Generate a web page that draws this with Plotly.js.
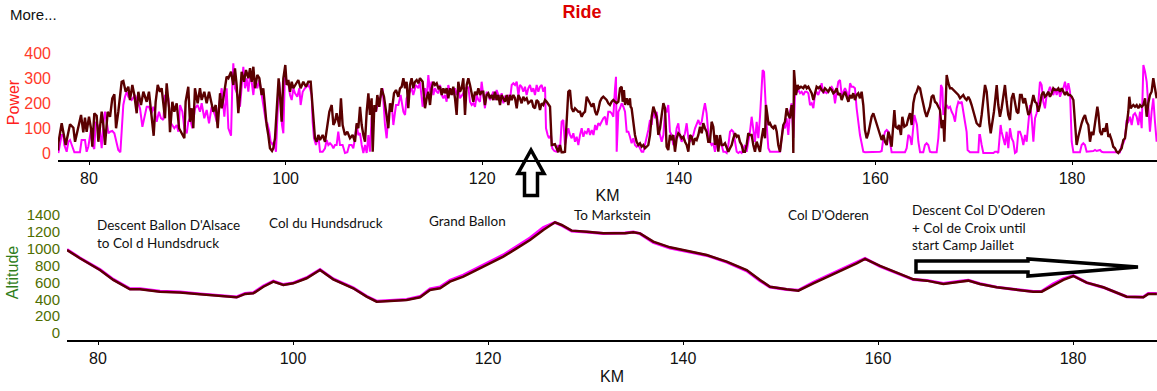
<!DOCTYPE html>
<html>
<head>
<meta charset="utf-8">
<script src="https://cdn.plot.ly/plotly-3.0.1.min.js"></script>
<style>html,body{margin:0;padding:0;background:#fff;}#chart{width:1157px;height:391px;}</style>
</head>
<body>
<div id="chart"></div>
<script>
// ---- Data ----
const kmTicks = [80, 100, 120, 140, 160, 180];
const powerTicks = [0, 100, 200, 300, 400];
const altitudeTicks = [0, 200, 400, 600, 800, 1000, 1200, 1400];

const magentaKm = [76.88,77.05,77.22,77.39,77.49,77.73,77.9,78.07,78.24,78.51,79.08,79.25,79.59,79.76,79.93,80.2,80.34,80.54,80.68,80.88,81.12,81.29,81.46,81.63,81.8,81.97,82.14,82.37,82.58,82.75,82.98,83.19,83.32,83.49,83.66,83.83,84.0,84.34,84.68,84.95,85.19,85.43,85.63,85.87,86.1,86.37,86.54,86.71,86.88,87.12,87.32,87.56,87.73,88.07,88.24,88.48,88.68,88.92,89.09,89.26,89.5,89.7,89.94,90.1,90.27,90.51,90.78,91.05,91.29,91.46,91.73,91.97,92.21,92.48,92.82,92.99,93.22,93.5,93.77,94.0,94.18,94.45,94.58,94.68,94.85,95.12,
95.36,95.53,95.7,95.87,96.04,96.21,96.38,96.55,96.72,96.89,97.12,97.33,97.56,97.8,98.0,98.14,98.34,98.48,98.68,98.82,99.02,99.16,99.36,99.5,99.63,99.77,99.94,100.11,100.28,100.45,100.62,100.79,100.96,101.19,101.4,101.53,101.74,101.97,102.31,102.48,102.65,102.75,102.89,103.09,103.33,103.5,103.77,104.01,104.18,104.35,104.52,104.69,104.86,105.02,105.19,105.36,105.53,105.8,106.04,106.28,106.48,106.72,106.89,107.06,107.23,107.4,107.57,107.74,107.91,108.08,108.25,108.42,108.58,108.75,108.92,109.19,109.43,109.67,109.87,110.11,110.28,110.45,110.62,110.79,110.96,111.23,111.47,111.7,111.98,112.15,112.31,112.59,112.82,112.99,113.26,113.5,113.67,113.94,
114.18,114.35,114.52,114.69,114.86,115.03,115.2,115.37,115.54,115.71,115.88,116.05,116.21,116.38,116.55,116.72,116.89,117.06,117.23,117.4,117.57,117.74,117.91,118.08,118.25,118.42,118.59,118.76,118.93,119.1,119.27,119.44,119.61,119.78,119.94,120.11,120.28,120.45,120.62,120.79,120.96,121.13,121.3,121.47,121.64,121.81,121.98,122.15,122.32,122.49,122.66,122.83,123.0,123.17,123.34,123.51,123.68,123.84,124.01,124.18,124.35,124.52,124.69,124.86,125.03,125.2,125.37,125.54,125.71,125.88,126.05,126.22,126.39,126.49,126.66,126.79,127.0,127.13,127.34,127.57,127.74,127.91,128.08,128.25,128.42,128.59,128.76,128.93,129.1,129.27,129.44,129.61,129.78,129.95,130.12,130.29,130.46,130.63,130.8,130.97,131.14,131.32,131.49,131.64,131.81,131.98,132.15,132.32,132.49,132.66,132.83,
133.0,133.17,133.34,133.51,133.61,133.68,133.85,134.02,134.19,134.36,134.53,134.7,134.87,135.03,135.2,135.37,135.54,135.71,135.88,136.05,136.22,136.39,136.56,136.73,136.9,137.07,137.24,137.41,137.58,137.75,137.92,138.09,138.26,138.43,138.6,138.76,138.93,139.1,139.27,139.44,139.61,139.78,139.95,140.12,140.29,140.46,140.63,140.8,140.97,141.14,141.31,141.48,141.65,141.82,141.99,142.16,142.33,142.49,142.66,142.83,143.0,143.17,143.34,143.51,143.68,143.85,144.02,144.19,144.36,144.53,144.7,144.87,145.04,145.21,145.38,145.55,145.72,145.89,146.06,146.22,146.39,146.56,146.73,146.9,147.07,147.24,147.41,147.58,147.75,147.92,148.09,148.26,148.43,148.53,148.67,148.77,148.94,149.11,149.28,149.62,149.96,150.29,150.46,150.63,150.8,150.97,151.14,151.31,151.48,151.65,
151.82,151.99,152.16,152.33,152.5,152.67,152.84,153.01,153.18,153.35,153.52,153.69,153.85,154.02,154.19,154.36,154.53,154.7,154.87,155.04,155.21,155.38,155.55,155.72,155.89,156.06,156.23,156.4,156.57,156.74,156.91,157.08,157.25,157.42,157.58,157.75,157.92,158.09,158.26,158.43,158.6,158.77,158.94,160.3,160.47,160.64,160.81,160.98,161.15,161.32,161.48,161.65,163.01,163.18,163.35,163.52,163.69,163.86,163.96,164.1,164.23,164.37,164.54,164.87,165.04,165.21,165.38,165.55,165.72,166.23,166.4,166.57,166.67,166.81,166.91,167.08,167.25,167.42,167.59,167.76,167.93,168.1,168.27,168.44,168.61,168.78,168.94,169.11,169.28,169.38,169.62,170.47,170.57,
170.64,170.81,170.98,171.32,171.66,172.0,172.17,172.34,172.5,172.61,172.74,172.84,173.01,173.18,173.35,173.52,173.69,173.86,174.03,174.2,174.37,174.54,174.71,174.88,175.05,175.22,175.39,175.56,175.73,175.9,176.07,176.24,176.4,176.57,176.74,176.91,177.08,177.25,177.42,177.59,177.76,177.93,178.1,178.27,178.44,178.61,178.78,178.95,179.12,179.29,179.46,179.63,179.8,179.97,180.14,180.81,180.98,181.15,181.32,181.49,182.17,182.34,182.51,182.85,183.02,183.19,184.88,185.05,185.22,185.39,185.56,185.73,185.9,186.07,186.24,186.41,186.58,186.75,186.92,187.09,187.26,187.43,187.6,187.76,187.93,188.1,188.27,188.44,188.61];
const magentaPower = [0,32,72,72,32,5,45,52,32,3,3,52,52,5,25,92,32,16,125,112,85,19,119,165,125,79,85,88,79,52,12,3,72,192,225,245,225,212,232,199,179,105,145,185,185,159,185,165,125,165,139,132,232,219,125,112,99,112,85,192,165,99,79,125,139,99,179,192,165,199,139,172,119,185,152,125,185,259,145,259,99,69,272,359,259,232,
185,272,345,259,299,245,312,285,232,299,259,292,232,185,125,119,85,45,32,45,5,139,285,219,112,79,325,285,279,232,212,259,239,225,259,192,245,259,272,259,232,125,59,32,72,5,5,19,52,32,39,32,19,32,32,85,32,32,0,3,32,32,19,59,112,72,79,32,0,32,0,72,5,139,179,165,205,225,259,112,59,152,179,199,112,192,192,232,165,152,219,245,259,232,272,259,285,185,
259,219,312,245,285,232,259,245,239,272,232,219,232,205,272,245,252,232,259,232,259,219,232,239,259,259,265,205,192,199,185,232,212,205,285,239,179,245,232,212,232,245,212,252,232,219,239,199,225,219,232,212,272,279,272,285,232,272,265,245,265,232,259,272,245,259,232,272,245,265,272,245,265,99,72,59,72,19,8,5,32,5,125,132,32,72,99,72,59,79,45,65,32,72,99,65,85,79,99,72,92,72,112,92,119,112,125,139,145,112,165,
165,159,145,259,305,5,165,179,199,185,165,85,85,65,39,59,32,25,32,19,5,5,32,59,92,132,112,179,139,165,99,72,45,72,165,165,192,85,72,32,45,99,119,65,45,59,79,119,59,45,59,72,99,119,132,112,125,165,199,159,79,45,32,39,5,39,32,59,32,5,5,0,32,85,92,85,45,5,0,5,0,19,32,5,45,85,145,99,45,125,59,145,259,332,325,232,112,19,5,5,5,5,59,112,99,139,72,165,199,60,
232,245,252,239,245,232,245,245,239,192,199,179,232,245,232,252,279,239,245,239,245,259,265,252,199,245,285,292,232,245,259,245,205,279,265,265,259,179,112,72,39,5,3,3,5,8,59,85,92,85,39,3,3,19,72,65,32,112,152,132,112,45,3,3,32,39,32,5,3,3,59,165,272,259,152,179,192,179,185,165,152,125,179,205,199,205,172,125,85,12,3,3,72,
72,32,0,0,0,0,5,5,0,72,112,85,59,32,85,19,99,59,45,0,5,85,85,65,32,72,45,125,192,139,45,139,159,199,285,272,205,179,232,245,265,245,232,259,232,259,225,245,259,285,245,279,245,45,3,3,32,39,32,5,8,12,8,12,5,3,3,32,39,59,132,125,145,112,152,159,145,112,165,99,352,325,285,192,85,165,219,125,45];

const darkKm = [76.85,76.88,77.22,77.39,77.63,78.07,78.41,78.58,78.91,79.19,79.42,79.59,79.76,80.0,80.2,80.34,80.54,80.78,80.95,81.29,81.46,81.63,81.9,82.14,82.37,82.58,82.75,82.98,83.32,83.49,83.73,84.0,84.17,84.41,84.61,84.85,85.02,85.29,85.53,85.87,86.1,86.37,86.58,86.78,86.99,87.22,87.39,87.73,87.9,88.14,88.24,88.48,88.68,88.92,89.16,89.7,89.83,90.1,90.27,90.45,90.61,90.78,91.05,91.29,91.46,91.73,91.97,92.21,92.48,92.65,92.89,93.09,93.33,93.5,93.67,94.0,94.18,94.45,94.68,94.85,95.02,95.19,
95.36,95.53,95.77,95.97,96.21,96.38,96.55,96.72,96.89,97.12,97.33,97.56,97.73,97.9,98.07,98.24,98.41,98.62,98.75,98.92,99.09,99.29,99.43,99.6,99.77,99.97,100.11,100.28,100.45,100.62,100.79,101.06,101.29,101.53,101.8,102.07,102.31,102.55,102.65,102.82,102.99,103.16,103.33,103.5,103.77,104.01,104.24,104.45,104.69,104.86,105.02,105.19,105.47,105.63,105.8,106.04,106.28,106.55,106.82,107.06,107.23,107.4,107.57,107.74,107.91,108.08,108.25,108.42,108.58,108.75,108.86,109.03,109.19,109.33,109.53,109.77,110.01,110.21,110.45,110.62,110.79,111.03,111.23,111.47,111.64,111.81,111.98,112.15,112.31,112.48,112.65,112.82,112.99,113.16,113.33,113.5,113.67,113.94,
114.18,114.35,114.52,114.69,114.86,115.03,115.2,115.37,115.54,115.71,115.88,116.05,116.21,116.38,116.55,116.72,116.89,117.06,117.23,117.4,117.57,117.74,117.91,118.08,118.25,118.42,118.59,118.76,118.93,119.1,119.27,119.44,119.61,119.78,119.94,120.11,120.28,120.45,120.62,120.79,120.96,121.13,121.3,121.47,121.64,121.81,121.98,122.15,122.32,122.49,122.66,122.83,123.0,123.17,123.34,123.51,123.68,123.84,124.01,124.18,124.35,124.52,124.69,124.86,125.03,125.2,125.37,125.54,125.71,125.88,126.05,126.22,126.39,126.56,126.73,126.9,127.07,127.24,127.4,127.57,127.74,127.91,128.08,128.25,128.42,128.59,128.76,128.93,129.1,129.27,129.44,129.61,129.78,129.95,130.12,130.29,130.46,130.63,130.8,130.97,131.14,131.32,131.49,131.64,131.81,131.98,132.15,132.32,132.49,132.66,132.83,
133.0,133.17,133.34,133.51,133.68,133.85,134.02,134.19,134.29,134.42,134.53,134.7,134.87,135.03,135.1,135.2,135.37,135.54,135.71,135.88,136.05,136.22,136.39,136.56,136.73,136.9,137.07,137.24,137.41,137.58,137.75,137.92,138.09,138.26,138.43,138.6,138.76,138.93,139.1,139.27,139.44,139.61,139.78,139.95,140.12,140.29,140.46,140.63,140.8,140.97,141.14,141.31,141.48,141.65,141.82,141.99,142.16,142.33,142.49,142.66,142.83,143.0,143.17,143.34,143.51,143.68,143.85,144.02,144.19,144.36,144.53,144.7,144.87,145.04,145.21,145.38,145.55,145.72,145.89,146.06,146.22,146.39,146.56,146.73,146.9,147.07,147.24,147.41,147.58,147.75,147.92,148.09,148.26,148.43,148.6,148.77,148.87,149.01,149.14,149.28,149.45,149.62,149.79,149.96,150.12,150.29,150.46,150.63,150.8,150.97,151.14,151.31,151.48,151.6,151.65,151.72,
151.92,152.09,152.23,152.43,152.67,152.84,153.01,153.18,153.35,153.52,153.69,153.85,154.02,154.19,154.36,154.53,154.7,154.87,155.04,155.21,155.38,155.55,155.72,155.89,156.06,156.23,156.4,156.57,156.74,156.91,157.08,157.25,157.42,157.58,157.75,157.92,158.09,158.26,158.43,158.6,158.77,158.94,159.11,159.28,159.45,159.62,159.79,159.96,160.13,160.3,160.47,160.64,160.81,160.98,161.15,161.32,161.48,161.65,161.93,162.06,162.26,162.4,162.6,162.74,162.94,163.18,163.35,163.52,163.69,163.86,164.03,164.2,164.37,164.54,164.71,164.87,165.04,165.21,165.38,165.55,165.72,165.89,166.06,166.23,166.4,166.57,166.74,166.91,167.01,167.15,167.25,167.42,167.59,167.76,167.93,168.1,168.27,168.44,168.61,168.78,168.94,169.11,169.28,169.45,169.62,169.79,169.96,170.13,170.3,170.47,
170.64,170.81,170.98,171.15,171.32,171.49,171.59,171.73,171.93,172.06,172.17,172.34,172.5,172.67,172.84,173.01,173.18,173.35,173.52,173.69,173.86,174.03,174.2,174.37,174.54,174.71,174.88,175.05,175.22,175.39,175.56,175.73,175.9,176.07,176.24,176.4,176.57,176.74,176.91,177.08,177.25,177.42,177.59,177.76,177.93,178.1,178.27,178.44,178.61,178.78,178.95,179.12,179.29,179.46,179.63,179.8,179.97,180.14,180.3,180.47,180.64,180.81,180.98,181.15,181.32,181.49,181.66,181.83,182.0,182.17,182.34,182.51,182.58,182.68,182.85,183.02,183.19,183.36,183.53,183.7,183.86,184.03,184.2,184.37,184.54,184.71,184.88,185.05,185.22,185.39,185.56,185.73,185.83,185.97,186.07,186.24,186.41,186.58,186.75,186.92,187.09,187.26,187.43,187.6,187.76,187.93,188.1,188.27,188.44,188.61];
const darkPower = [10,39,119,85,32,115,101,45,99,152,83,141,85,145,99,25,159,149,45,165,112,32,165,145,219,235,99,165,285,288,245,265,212,272,232,159,245,192,245,205,245,152,69,205,272,245,259,139,279,179,83,205,165,199,99,59,205,265,125,179,99,259,199,259,212,245,199,245,192,165,192,99,239,179,219,305,299,325,272,339,272,159,
232,325,285,332,299,339,285,345,259,312,299,232,259,179,112,72,19,8,19,59,165,299,232,125,299,352,272,292,245,285,259,279,292,259,285,265,285,285,232,112,59,45,72,52,72,45,112,165,192,112,125,159,105,219,112,72,85,59,72,45,119,99,185,112,72,45,165,239,152,219,5,192,165,232,185,259,225,165,99,199,165,239,252,225,259,265,299,259,285,179,272,299,259,285,292,279,299,285,
179,219,245,192,259,285,272,279,259,265,232,259,239,259,219,259,232,265,219,152,285,245,259,299,152,272,299,272,232,205,245,232,259,232,245,245,192,232,239,219,232,212,245,212,232,192,232,219,205,232,192,232,212,232,219,179,232,219,199,225,212,219,199,205,212,185,179,212,205,172,199,192,212,205,192,185,32,32,35,19,3,32,3,3,5,125,245,252,179,165,179,172,165,165,145,159,165,225,212,199,185,199,165,152,172,205,219,225,219,212,199,
192,205,212,205,199,205,259,265,205,252,192,219,192,219,185,179,125,72,45,32,39,25,32,19,25,32,72,145,185,165,145,72,99,152,199,179,25,12,72,52,72,5,59,79,72,59,65,45,32,5,72,65,32,59,52,72,105,79,119,99,85,45,45,125,105,32,72,5,72,32,32,39,25,5,19,32,59,79,65,72,45,32,5,5,32,79,72,72,32,5,45,19,5,59,99,59,192,152,112,119,105,99,112,85,32,5,72,112,125,179,152,139,192,145,0,332,
232,272,259,265,259,272,259,265,252,239,212,245,265,259,265,252,245,259,252,245,259,252,239,245,259,232,239,212,232,245,225,205,232,219,239,212,232,239,219,245,192,92,59,79,112,145,159,139,119,99,72,52,72,45,32,85,65,25,172,105,99,112,72,145,105,112,139,159,112,199,232,245,265,259,225,192,165,145,165,185,225,232,205,199,185,172,99,132,45,245,312,279,259,259,252,245,239,232,219,225,232,219,212,225,212,192,165,139,119,112,
105,152,219,272,245,159,119,79,125,165,205,272,192,145,179,239,272,205,152,132,219,239,199,165,159,232,232,199,219,179,152,165,205,232,205,199,165,192,232,245,225,232,245,225,239,259,252,252,259,245,259,245,232,245,232,232,225,212,112,32,65,99,119,139,152,125,112,45,85,72,112,152,185,159,85,72,99,85,119,65,72,52,25,19,5,0,12,19,52,59,112,165,225,179,185,192,185,192,179,192,185,192,219,145,199,232,245,299,259,219];

const altKm = [76.82,78.15,80.2,81.57,83.28,84.31,86.36,88.41,90.46,92.17,94.22,95.08,95.93,96.96,97.98,99.01,100.03,101.4,102.77,104.13,106.18,107.55,108.58,109.95,111.66,113.03,114.05,115.08,116.1,117.47,118.84,120.21,121.57,122.94,124.31,125.67,126.87,127.56,128.58,130.12,131.83,134.05,134.9,135.59,136.95,138.67,140.38,142.43,144.48,146.53,147.9,148.92,150.63,151.83,153.37,154.74,156.44,157.81,158.67,160.21,161.92,163.62,164.99,166.7,168.41,169.26,170.46,172.17,173.88,175.93,176.79,177.98,179.01,180.03,181.4,183.11,185.5,187.21,187.72,188.6];
const altitudeDark = [985,886,747,629,518,518,490,481,459,439,423,463,470,549,609,569,589,649,747,637,530,431,372,380,391,423,510,530,609,668,747,819,906,1004,1103,1222,1313,1281,1214,1202,1182,1182,1194,1182,1083,1016,977,925,846,747,629,549,518,502,589,660,747,826,878,795,716,637,621,581,609,621,581,542,518,490,490,569,629,676,597,542,431,423,463,463];
const altitudeMagenta = [990,890,752,636,525,524,496,486,464,444,428,468,476,556,615,574,594,655,752,642,535,436,378,386,398,432,522,545,625,686,765,838,926,1026,1126,1250,1312,1275,1210,1198,1180,1185,1198,1178,1075,1008,972,920,840,738,620,545,515,506,600,672,760,840,885,790,712,634,624,586,614,625,584,544,520,492,496,582,642,680,598,540,430,428,468,468];

const labels = [
  {text: "Descent Ballon D'Alsace<br>to Col d Hundsdruck", px: 95, py: 234},
  {text: "Col du Hundsdruck", px: 267, py: 223},
  {text: "Grand Ballon", px: 427, py: 221},
  {text: "To Markstein", px: 572, py: 215},
  {text: "Col D'Oderen", px: 786, py: 215},
  {text: "Descent Col D'Oderen<br>+ Col de Croix until<br>start Camp Jaillet", px: 910, py: 227}
];

// ---- Helpers for pixel -> paper (decorations only) ----
const W = 1157, H = 391;
const fx = p => p / W, fy = p => 1 - p / H;
function pathFrom(pts) {
  return 'M' + pts.map(p => fx(p[0]).toFixed(5) + ',' + fy(p[1]).toFixed(5)).join(' L') + ' Z';
}

const AXF = 'Arial, "Liberation Sans", sans-serif';
const darkColor = '#5a0000';
const magColor = '#ff00ff';

const traces = [
  {x: magentaKm, y: magentaPower, type: 'scatter', mode: 'lines', xaxis: 'x', yaxis: 'y',
   line: {color: magColor, width: 2}, hoverinfo: 'skip'},
  {x: darkKm, y: darkPower, type: 'scatter', mode: 'lines', xaxis: 'x', yaxis: 'y',
   line: {color: darkColor, width: 2.4}, hoverinfo: 'skip'},
  {x: altKm, y: altitudeMagenta, type: 'scatter', mode: 'lines', xaxis: 'x2', yaxis: 'y2',
   line: {color: magColor, width: 3}, hoverinfo: 'skip'},
  {x: altKm, y: altitudeDark, type: 'scatter', mode: 'lines', xaxis: 'x2', yaxis: 'y2',
   line: {color: darkColor, width: 2.5}, hoverinfo: 'skip'}
];

const xCommon = {
  tickvals: kmTicks, ticktext: kmTicks.map(String),
  showline: true, linecolor: '#000', linewidth: 1.5,
  ticks: 'outside', ticklen: 3, tickcolor: '#000', tickwidth: 1,
  showgrid: false, zeroline: false,
  tickfont: {family: AXF, size: 16, color: '#111'},
  fixedrange: true
};

const layout = {
  width: W, height: H,
  margin: {l: 0, r: 0, t: 0, b: 0},
  paper_bgcolor: '#fff', plot_bgcolor: '#fff',
  showlegend: false,
  hovermode: false,
  title: {text: '<b>Ride</b>', font: {family: AXF, size: 18, color: '#dd0000'},
          x: 582 / W, xanchor: 'center', y: 1 - 12 / H, yanchor: 'middle'},
  xaxis: Object.assign({}, xCommon, {
    domain: [58 / W, 1], anchor: 'y', range: [76.846, 188.647],
    title: {text: 'KM', font: {family: AXF, size: 16, color: '#111'}, standoff: 4}
  }),
  xaxis2: Object.assign({}, xCommon, {
    domain: [67 / W, 1], anchor: 'y2', range: [76.82, 188.615],
    title: {text: 'KM', font: {family: AXF, size: 16, color: '#111'}, standoff: 5}
  }),
  yaxis: {
    domain: [1 - 160 / H, 1 - 45 / H], anchor: 'x', range: [-28, 432],
    tickvals: powerTicks, showgrid: false, zeroline: false, showline: false,
    ticks: '', ticklabelstandoff: 6,
    tickfont: {family: AXF, size: 16, color: '#ff3a2a'},
    title: {text: 'Power', font: {family: AXF, size: 16, color: '#ff2020'}, standoff: 0},
    fixedrange: true
  },
  yaxis2: {
    domain: [1 - 340 / H, 1 - 205 / H], anchor: 'x2', range: [-83, 1518],
    tickvals: altitudeTicks, showgrid: false, zeroline: false, showline: false,
    ticks: '', ticklabelstandoff: 6,
    tickfont: {family: AXF, size: 15, color: '#4f6e00'},
    title: {text: 'Altitude', font: {family: AXF, size: 16, color: '#2f7d1a'}, standoff: 4},
    fixedrange: true
  },
  annotations: [
    {text: 'More...', xref: 'paper', yref: 'paper', x: fx(8), y: fy(15), xanchor: 'left', yanchor: 'middle',
     showarrow: false, font: {family: AXF, size: 15, color: '#111'}}
  ].concat(labels.map(l => ({
    text: l.text, xref: 'paper', yref: 'paper', x: fx(l.px), y: fy(l.py),
    xanchor: 'left', yanchor: 'middle', align: 'left', showarrow: false,
    font: {family: 'Lato, "Open Sans", sans-serif', size: 13.5, color: '#111'}
  }))),
  shapes: [
    {type: 'path', xref: 'paper', yref: 'paper',
     path: pathFrom([[531,150],[544,173.5],[537.5,173.5],[537.5,195.5],[524.5,195.5],[524.5,173.5],[518,173.5]]),
     line: {color: '#000', width: 3.5}, fillcolor: 'rgba(255,255,255,0)'},
    {type: 'path', xref: 'paper', yref: 'paper',
     path: pathFrom([[916,261],[1028,261],[1028,259],[1138,267],[1028,276],[1028,272],[916,272]]),
     line: {color: '#000', width: 3.5}, fillcolor: 'rgba(255,255,255,0)'}
  ]
};

Plotly.newPlot('chart', traces, layout, {displayModeBar: false, staticPlot: true});
</script>
</body>
</html>
